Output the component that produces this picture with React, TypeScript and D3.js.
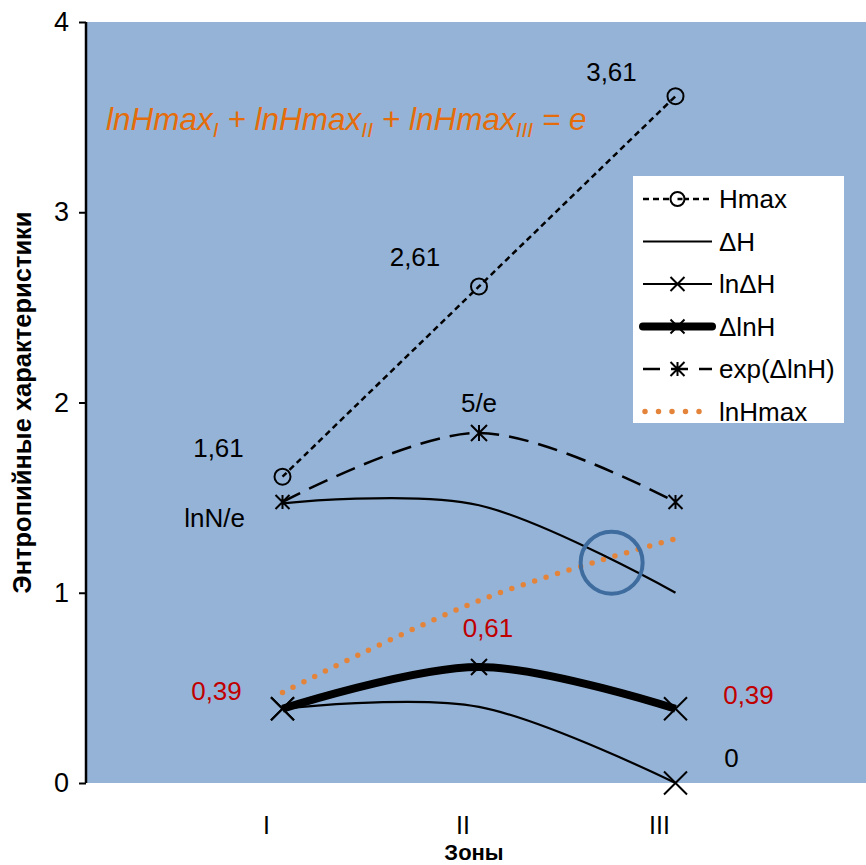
import React, { useEffect, useRef } from "react";
import * as d3 from "d3";

const zones = ["I", "II", "III"];
const zoneX = [1, 2, 3];
const hmax = [1.61, 2.61, 3.61];
const deltaH = [1.47, 1.46, 1.0];
const lnDeltaH = [0.39, 0.4, 0];
const deltaLnH = [0.39, 0.61, 0.39];
const expDeltaLnH = [1.477, 1.84, 1.477];
const lnHmax = [0.476, 0.959, 1.284];
const hmaxLabels = ["1,61", "2,61", "3,61"];
const deltaLnHLabels = ["0,39", "0,61", "0,39"];
const yTicks = [0, 1, 2, 3, 4];
const legendNames = ["Hmax", "ΔH", "lnΔH", "ΔlnH", "exp(ΔlnH)", "lnHmax"];
const highlight = { x: 2.675, y: 1.158 };

const W = 866;
const H = 865;
const FONT = "'Liberation Sans', Arial, sans-serif";
const ORANGE = "#E4843A";
const LBL = 26;

export default function App() {
  const axisRef = useRef<SVGGElement>(null);
  const x = d3.scaleLinear().domain([0, 4]).range([86, 872]);
  const y = d3.scaleLinear().domain([0, 4]).range([783, 22]);

  useEffect(() => {
    if (!axisRef.current) return;
    const g = d3.select(axisRef.current);
    g.selectAll("*").remove();
    g.call(
      d3
        .axisLeft(y)
        .tickValues(yTicks)
        .tickSize(7)
        .tickPadding(10)
        .tickFormat(d3.format("d"))
    );
    g.select(".domain").attr("stroke", "#000").attr("stroke-width", 2.5).attr("d", `M0,${y(4)}V${y(0)}`);
    g.selectAll(".tick line").attr("stroke", "#000").attr("stroke-width", 2);
    g.selectAll(".tick text")
      .attr("font-family", FONT)
      .attr("font-size", 27)
      .attr("fill", "#000");
  }, []);

  const smooth = (vals: number[]) =>
    d3
      .line<number>()
      .x((_, i) => x(zoneX[i]))
      .y((v) => y(v))
      .curve(d3.curveCardinal.tension(0))(vals) as string;

  const xMark = (s: number) => {
    const h = s / 2;
    return `M${-h},${-h}L${h},${h}M${-h},${h}L${h},${-h}`;
  };
  const star = (s: number) => {
    const h = s / 2;
    return `M${-h},${-h}L${h},${h}M${-h},${h}L${h},${-h}M0,${-h}L0,${h}`;
  };

  const lx0 = 643;
  const lx1 = 712;
  const lxm = (lx0 + lx1) / 2;
  const ly = (i: number) => 199 + i * 42.5;

  return (
    <svg
      width={W}
      height={H}
      style={{ position: "absolute", left: 0, top: 0, background: "#fff" }}
      fontFamily={FONT}
    >
      <rect x={x(0)} y={y(4)} width={W - x(0)} height={y(0) - y(4)} fill="#95B3D7" />

      {/* formula */}
      <text x={106} y={130} fill="#E46C0A" fontSize={31.5} fontStyle="italic">
        lnHmax<tspan fontSize={21} dy={7}>I</tspan>
        <tspan dy={-7}> + lnHmax</tspan>
        <tspan fontSize={21} dy={7}>II</tspan>
        <tspan dy={-7}> + lnHmax</tspan>
        <tspan fontSize={21} dy={7}>III</tspan>
        <tspan dy={-7}> = e</tspan>
      </text>

      {/* lines */}
      <path d={smooth(lnHmax)} fill="none" stroke={ORANGE} strokeWidth={5.5} strokeDasharray="0,12" strokeLinecap="round" />
      <path d={smooth(hmax)} fill="none" stroke="#000" strokeWidth={2.5} strokeDasharray="6,4" />
      <path d={smooth(expDeltaLnH)} fill="none" stroke="#000" strokeWidth={2.5} strokeDasharray="20,10" />
      <path d={smooth(deltaH)} fill="none" stroke="#000" strokeWidth={2.2} />
      <path d={smooth(lnDeltaH)} fill="none" stroke="#000" strokeWidth={2.2} />
      <path d={smooth(deltaLnH)} fill="none" stroke="#000" strokeWidth={8} />

      {/* markers */}
      {hmax.map((v, i) => (
        <circle key={"hm" + i} cx={x(zoneX[i])} cy={y(v)} r={8} fill="none" stroke="#000" strokeWidth={2} />
      ))}
      {expDeltaLnH.map((v, i) => (
        <path key={"ex" + i} transform={`translate(${x(zoneX[i])},${y(v)})`} d={star(i === 1 ? 16 : 14)} stroke="#000" strokeWidth={2} />
      ))}
      {lnDeltaH.map((v, i) =>
        i === 1 ? null : (
          <path key={"ld" + i} transform={`translate(${x(zoneX[i])},${y(v)})`} d={xMark(23)} stroke="#000" strokeWidth={2} />
        )
      )}
      {deltaLnH.map((v, i) => (
        <path key={"dl" + i} transform={`translate(${x(zoneX[i])},${y(v)})`} d={xMark(i === 1 ? 16 : 23)} stroke="#000" strokeWidth={2} />
      ))}

      {/* highlight circle */}
      <circle cx={x(highlight.x)} cy={y(highlight.y)} r={31} fill="none" stroke="#3E6C9E" strokeWidth={4} />

      {/* data labels */}
      {hmax.map((v, i) => (
        <text key={"hl" + i} x={x(zoneX[i]) - 64} y={y(v) - (i === 2 ? 24 : 29)} fontSize={LBL} textAnchor="middle" dominantBaseline="central" fill="#000">
          {hmaxLabels[i]}
        </text>
      ))}
      <text x={x(zoneX[0]) - 68} y={y(deltaH[0]) + 15} fontSize={LBL} textAnchor="middle" dominantBaseline="central">lnN/e</text>
      <text x={x(zoneX[1])} y={y(expDeltaLnH[1]) - 30} fontSize={LBL} textAnchor="middle" dominantBaseline="central">5/e</text>
      <text x={x(zoneX[0]) - 66} y={y(deltaLnH[0]) - 18} fontSize={LBL} textAnchor="middle" dominantBaseline="central" fill="#C00000">{deltaLnHLabels[0]}</text>
      <text x={x(zoneX[1]) + 9} y={y(deltaLnH[1]) - 39} fontSize={LBL} textAnchor="middle" dominantBaseline="central" fill="#C00000">{deltaLnHLabels[1]}</text>
      <text x={x(zoneX[2]) + 73} y={y(deltaLnH[2]) - 14} fontSize={LBL} textAnchor="middle" dominantBaseline="central" fill="#C00000">{deltaLnHLabels[2]}</text>
      <text x={x(zoneX[2]) + 56} y={y(lnDeltaH[2]) - 25} fontSize={LBL} textAnchor="middle" dominantBaseline="central">0</text>

      {/* y axis */}
      <g ref={axisRef} transform={`translate(${x(0)},0)`} />

      {/* x labels */}
      {zones.map((z, i) => (
        <text key={"z" + i} x={x(zoneX[i]) - 16} y={825} fontSize={25} textAnchor="middle" dominantBaseline="central">{z}</text>
      ))}
      <text x={474} y={852} fontSize={22} fontWeight="bold" textAnchor="middle" dominantBaseline="central">Зоны</text>
      <text transform={`translate(22,${(y(0) + y(4)) / 2}) rotate(-90)`} fontSize={25.5} fontWeight="bold" textAnchor="middle" dominantBaseline="central">
        Энтропийные характеристики
      </text>

      {/* legend */}
      <rect x={633} y={176} width={211} height={247} fill="#fff" />
      <g>
        <line x1={lx0} x2={lx1} y1={ly(0)} y2={ly(0)} stroke="#000" strokeWidth={2.5} strokeDasharray="6,4" />
        <circle cx={lxm} cy={ly(0)} r={7} fill="#fff" stroke="#000" strokeWidth={2} />
        <line x1={lxm} x2={lxm + 5} y1={ly(0)} y2={ly(0)} stroke="#000" strokeWidth={2.5} />
        <line x1={lx0} x2={lx1} y1={ly(1)} y2={ly(1)} stroke="#000" strokeWidth={2.2} />
        <line x1={lx0} x2={lx1} y1={ly(2)} y2={ly(2)} stroke="#000" strokeWidth={2.2} />
        <path transform={`translate(${lxm},${ly(2)})`} d={xMark(14)} stroke="#000" strokeWidth={2} />
        <line x1={lx0} x2={lx1} y1={ly(3)} y2={ly(3)} stroke="#000" strokeWidth={8} strokeLinecap="round" />
        <path transform={`translate(${lxm},${ly(3)})`} d={xMark(14)} stroke="#000" strokeWidth={2} />
        <line x1={lx0} x2={lx1} y1={ly(4)} y2={ly(4)} stroke="#000" strokeWidth={2.5} strokeDasharray="17,11" />
        <path transform={`translate(${lxm},${ly(4)})`} d={star(14)} stroke="#000" strokeWidth={2} />
        <line x1={lx0 + 2} x2={lx1} y1={ly(5)} y2={ly(5)} stroke={ORANGE} strokeWidth={5.5} strokeDasharray="0,13.5" strokeLinecap="round" />
        {legendNames.map((n, i) => (
          <text key={"ln" + i} x={719} y={ly(i)} fontSize={26} dominantBaseline="central">{n}</text>
        ))}
      </g>
    </svg>
  );
}
